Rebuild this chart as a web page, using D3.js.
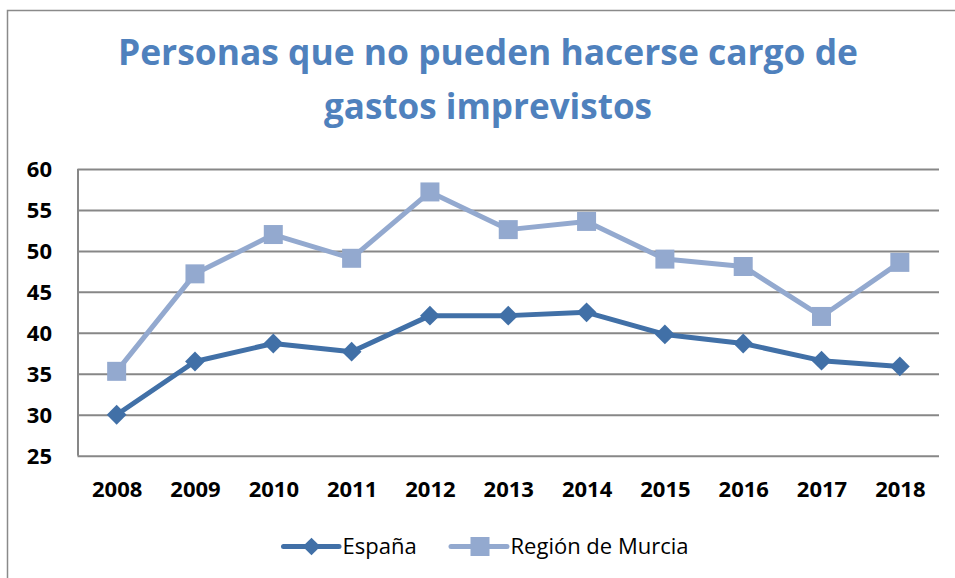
<!DOCTYPE html>
<html>
<head>
<meta charset="utf-8">
<script src="https://cdn.jsdelivr.net/npm/d3@7"></script>
<style>
html, body { margin: 0; padding: 0; background: #fff; }
svg { display: block; }
</style>
</head>
<body>
<svg id="chart" width="955" height="578"></svg>
<script>
const titleLines = ["Personas que no pueden hacerse cargo de", "gastos imprevistos"];
const years = ["2008", "2009", "2010", "2011", "2012", "2013", "2014", "2015", "2016", "2017", "2018"];
const espana = [30.0, 36.5, 38.7, 37.7, 42.1, 42.1, 42.5, 39.8, 38.7, 36.6, 35.9];
const murcia = [35.3, 47.2, 52.0, 49.1, 57.2, 52.6, 53.6, 49.0, 48.1, 42.0, 48.6];
const yTicks = [25, 30, 35, 40, 45, 50, 55, 60];
const seriesNames = ["España", "Región de Murcia"];

const colEsp = "#4170A7";
const colMur = "#93A9CF";
const gridCol = "#878787";

const svg = d3.select("#chart");

// outer frame
svg.append("rect").attr("x", 7.5).attr("y", 10.5).attr("width", 960).attr("height", 600)
  .attr("fill", "none").attr("stroke", "#8a8a8a").attr("stroke-width", 1.5);

// title
const titleG = svg.append("g");
const titleW = [740, 328];
const titleY = [64.5, 118.5];
titleLines.forEach((t, i) => {
  titleG.append("text")
    .attr("x", 488).attr("y", titleY[i])
    .attr("text-anchor", "middle")
    .attr("font-family", "'Open Sans', sans-serif")
    .attr("font-weight", "bold")
    .attr("font-size", 35.5)
    .attr("fill", "#4F81BD")
    .attr("textLength", titleW[i])
    .attr("lengthAdjust", "spacingAndGlyphs")
    .text(t);
});

const pLeft = 77.5, pRight = 939, pTop = 169, pBottom = 455.7;
const x = d3.scalePoint().domain(years).range([pLeft, pRight]).padding(0.5);
const y = d3.scaleLinear().domain([25, 60]).range([pBottom, pTop]);

// gridlines + y axis
const yAxis = d3.axisLeft(y).tickValues(yTicks).tickSize(-(pRight - pLeft)).tickPadding(25.5);
const gy = svg.append("g").attr("transform", `translate(${pLeft},0)`).call(yAxis);
gy.select(".domain").attr("stroke", gridCol).attr("stroke-width", 2).attr("d", `M0.5,${pTop}V${pBottom}`);
gy.selectAll(".tick line").attr("stroke", gridCol).attr("stroke-width", 2);
gy.selectAll(".tick text")
  .attr("font-family", "'Open Sans', sans-serif").attr("font-weight", "bold")
  .attr("font-size", 22).attr("fill", "#000").attr("dy", "0.34em");

// x axis labels
const xAxis = d3.axisBottom(x).tickSize(0);
const gx = svg.append("g").attr("transform", `translate(0,${pBottom})`).call(xAxis);
gx.select(".domain").remove();
gx.selectAll(".tick text")
  .attr("font-family", "'Open Sans', sans-serif").attr("font-weight", "bold")
  .attr("font-size", 22).attr("fill", "#000").attr("y", 41.8).attr("dy", 0);

const line = d3.line().x((d, i) => x(years[i])).y(d => y(d));

// Murcia series
svg.append("path").datum(murcia).attr("d", line).attr("fill", "none")
  .attr("stroke", colMur).attr("stroke-width", 5).attr("stroke-linejoin", "round");
svg.append("g").selectAll("path").data(murcia).join("path")
  .attr("transform", (d, i) => `translate(${x(years[i])},${y(d)})`)
  .attr("d", d3.symbol(d3.symbolSquare, 19 * 19))
  .attr("fill", colMur);

// España series
svg.append("path").datum(espana).attr("d", line).attr("fill", "none")
  .attr("stroke", colEsp).attr("stroke-width", 5).attr("stroke-linejoin", "round");
svg.append("g").selectAll("path").data(espana).join("path")
  .attr("transform", (d, i) => `translate(${x(years[i])},${y(d)}) rotate(45)`)
  .attr("d", d3.symbol(d3.symbolSquare, 14 * 14))
  .attr("fill", colEsp);

// legend
const legY = 546.5;
const leg = [
  { name: seriesNames[0], col: colEsp, x0: 283.5, x1: 339, cx: 311.5, tx: 342.5, sym: "diamond" },
  { name: seriesNames[1], col: colMur, x0: 451, x1: 507, cx: 480, tx: 510.5, sym: "square" }
];
const lg = svg.append("g");
leg.forEach(l => {
  lg.append("line").attr("x1", l.x0).attr("x2", l.x1).attr("y1", legY).attr("y2", legY)
    .attr("stroke", l.col).attr("stroke-width", 5).attr("stroke-linecap", "round");
  if (l.sym === "diamond") {
    lg.append("path").attr("transform", `translate(${l.cx},${legY}) rotate(45)`)
      .attr("d", d3.symbol(d3.symbolSquare, 12.5 * 12.5)).attr("fill", l.col);
  } else {
    lg.append("path").attr("transform", `translate(${l.cx},${legY})`)
      .attr("d", d3.symbol(d3.symbolSquare, 19 * 19)).attr("fill", l.col);
  }
  lg.append("text").attr("x", l.tx).attr("y", 554.3)
    .attr("font-family", "'Open Sans', sans-serif").attr("font-size", 22)
    .attr("fill", "#000").text(l.name);
});
</script>
</body>
</html>
